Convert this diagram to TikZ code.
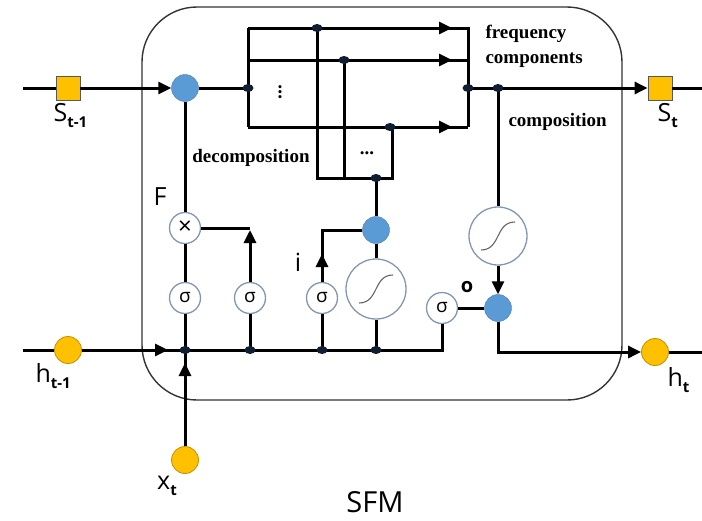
\documentclass[tikz,border=0pt]{standalone}
\usepackage{fontspec}
\setmainfont{Liberation Serif}
\newfontfamily\lblfont{Open Sans}
\usetikzlibrary{arrows.meta,shapes.geometric,calc}
\definecolor{gateblue}{HTML}{5B9BD5}
\definecolor{gold}{HTML}{FFC000}
\definecolor{rim}{HTML}{8496B0}
\definecolor{navy}{HTML}{0F1E30}
\begin{document}
\begin{tikzpicture}[x=1pt,y=-1pt,
    wire/.style={line width=3pt},
    arr/.style={wire,-{Triangle[length=13pt,width=12pt]}},
    blob/.style={circle,fill=gateblue,draw=gateblue!80!black,line width=0.4pt,minimum size=27pt,inner sep=0pt},
    sig/.style={circle,draw=rim,fill=white,line width=1.3pt,minimum size=31pt,inner sep=0pt,font=\lblfont\fontsize{19}{19}\selectfont},
    tanhc/.style={circle,draw=rim,fill=white,line width=1.3pt,minimum size=#1,inner sep=0pt,
      path picture={\draw[gray!80!black,line width=1.1pt]
        ([shift={(-17,14)}]path picture bounding box.center) .. controls
        ([shift={(3,14)}]path picture bounding box.center) and
        ([shift={(-3,-14)}]path picture bounding box.center) ..
        ([shift={(17,-14)}]path picture bounding box.center);}},
    dot/.style={ellipse,fill=navy,minimum width=11pt,minimum height=8pt,inner sep=0pt},
    yel/.style={circle,fill=gold,draw=gold!75!black,line width=0.8pt,minimum size=27pt,inner sep=0pt},
    sq/.style={rectangle,fill=gold,draw=gray!70!black,line width=0.8pt,minimum size=24pt,inner sep=0pt},
    lbl/.style={font=\lblfont\fontsize{25}{25}\selectfont},
    note/.style={font=\bfseries\fontsize{19}{19}\selectfont}]
  \useasboundingbox (0,0) rectangle (702,520);

  % cell
  \draw[line width=1.4pt,black!80,rounded corners=55pt] (142,7) rectangle (622,400);

  % inputs and outputs
  \coordinate (sin) at (23,88);
  \coordinate (hin) at (23,350);
  \coordinate (sout) at (702,88);
  \coordinate (hout) at (702,352);
  \node[sq] (sprev) at (68,88) {};
  \node[sq] (snext) at (660,88) {};
  \node[yel] (hprev) at (68,350) {};
  \node[yel] (hnext) at (655,352) {};
  \node[yel] (xt) at (185,460) {};

  % gates
  \node[blob] (addS) at (185,88) {};
  \node[sig,font=\lblfont\fontsize{24}{24}\selectfont] (mul) at (185,228) {×};
  \node[sig] (sigF) at (185,298) {σ};
  \node[sig] (sig2) at (250,298) {σ};
  \node[sig] (sigI) at (322,298) {σ};
  \node[tanhc=60pt] (tanhI) at (376,289) {};
  \node[blob] (blobI) at (376,230) {};
  \node[sig] (sigO) at (442,308) {σ};
  \node[blob] (blobO) at (498,308) {};
  \node[tanhc=58pt] (tanhC) at (498,236) {};

  % junctions
  \coordinate (bT) at (248,28);
  \coordinate (bM) at (248,60);
  \coordinate (bB) at (248,127);
  \coordinate (rT) at (468,28);
  \coordinate (rM) at (468,60);
  \coordinate (rB) at (468,127);
  \coordinate (cL) at (317,178);
  \coordinate (cR) at (392,178);
  \coordinate (kA) at (250,228);
  \coordinate (kI) at (322,230);

  % state line
  \draw[wire] (sin) -- (sprev);
  \draw[arr] (sprev) -- (addS);
  \draw[wire] (addS) -- (248,88);
  \draw[wire] (bT) -- (bB);
  \draw[wire] (bT) -- (rT) -- (rB);
  \draw[wire] (bM) -- (rM);
  \draw[wire] (bB) -- (rB);
  \draw[arr,shorten >=16pt] (bT) -- (rT);
  \draw[arr,shorten >=16pt] (bM) -- (rM);
  \draw[arr,shorten >=16pt] (bB) -- (rB);
  \draw[wire] (317,28) -- (cL) -- (cR) -- (392,127);
  \draw[wire] (344,60) -- (344,178);
  \draw[wire] (376,178) -- (blobI);
  \draw[arr] (468,88) -- (snext);
  \draw[wire] (snext) -- (sout);

  % composition
  \draw[wire] (498,88) -- (tanhC);
  \draw[arr] (tanhC) -- (blobO);
  \draw[wire] (sigO) -- (blobO);
  \draw[arr] (blobO.south) |- (hnext);
  \draw[wire] (hnext) -- (hout);

  % hidden line
  \draw[wire] (hin) -- (hprev);
  \draw[wire] (hprev) -- (185,350) -| (sigO);
  \draw[arr,shorten >=17pt] (hprev) -- (185,350);
  \draw[wire] (xt) -- (185,350);
  \draw[arr,shorten >=13pt] (xt) -- (185,350);

  % gate wiring
  \draw[wire] (185,350) -- (sigF);
  \draw[wire] (sigF) -- (mul);
  \draw[wire] (mul) -- (addS);
  \draw[wire] (250,350) -- (sig2);
  \draw[wire] (mul) -- (kA);
  \draw[arr,shorten >=2pt] (sig2) -- (kA);
  \draw[wire] (322,350) -- (sigI);
  \draw[wire] (sigI) -- (kI) -- (blobI);
  \draw[arr,shorten >=24pt] (sigI) -- (kI);
  \draw[wire] (376,350) -- (tanhI);
  \draw[wire] (tanhI) -- (blobI);

  % dots
  \foreach \p in {(248,88),(317,28),(344,60),(390,127),(376,178),(468,88),(498,88),
                  (185,350),(250,350),(322,350),(376,350)}
    \node[dot] at \p {};

  % labels
  \node[note,rotate=90] (vd) at (280,92) {...};
  \node[note] (hd) at (367,153) {...};
  \node[note] (dec) at (251,158) {decomposition};
  \node[note,anchor=west] (fr1) at (482,34) {frequency};
  \node[note,anchor=west] (fr2) at (482,60) {components};
  \node[note,anchor=west] (com) at (505,122) {composition};
  \node[lbl] (lF) at (160,197) {F};
  \node[lbl] (li) at (298,262) {i};
  \node[font=\lblfont\bfseries\fontsize{20}{20}\selectfont] (lo) at (467,287) {o};
  \node[lbl,anchor=west] (lS1) at (50,116) {S\raisebox{-6pt}{\bfseries\fontsize{15}{15}\selectfont t-1}};
  \node[lbl,anchor=west] (lS2) at (654,116) {S\raisebox{-6pt}{\bfseries\fontsize{15}{15}\selectfont t}};
  \node[lbl,anchor=west] (lh1) at (32,376) {h\raisebox{-6pt}{\bfseries\fontsize{15}{15}\selectfont t-1}};
  \node[lbl,anchor=west] (lh2) at (664,380) {h\raisebox{-6pt}{\bfseries\fontsize{15}{15}\selectfont t}};
  \node[lbl] (lx) at (167,486) {x\raisebox{-6pt}{\bfseries\fontsize{15}{15}\selectfont t}};
  \node[font=\lblfont\fontsize{29}{29}\selectfont] (title) at (375,502) {SFM};
\end{tikzpicture}
\end{document}
